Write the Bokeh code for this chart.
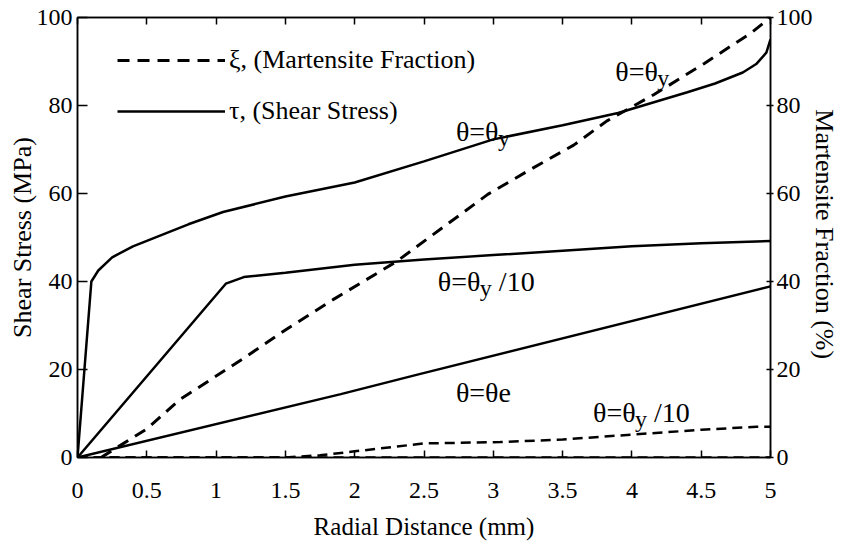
from bokeh.plotting import figure
from bokeh.models import (Range1d, LinearAxis, FixedTicker, NumeralTickFormatter,
                          Label, Legend, LegendItem)
from bokeh.embed import file_html
from bokeh.resources import INLINE

# ---------------- data ----------------
x_ticks = [0, 0.5, 1, 1.5, 2, 2.5, 3, 3.5, 4, 4.5, 5]
y_ticks = [0, 20, 40, 60, 80, 100]

# shear stress (MPa)
tau_y_x = [0, 0.1, 0.15, 0.25, 0.4, 0.6, 0.8, 1.05, 1.5, 2.0, 2.5, 3.0, 3.5, 3.9, 4.4, 4.6, 4.8, 4.9, 4.97, 5.0]
tau_y_v = [0, 40, 42.5, 45.5, 48, 50.5, 53, 55.8, 59.3, 62.5, 67.3, 72.3, 75.5, 78.3, 83.0, 85, 87.5, 89.5, 92, 95]

tau_y10_x = [0, 1.07, 1.2, 1.5, 2.0, 2.5, 3.0, 3.5, 4.0, 4.5, 5.0]
tau_y10_v = [0, 39.5, 41, 42, 43.8, 45, 46, 47, 48, 48.7, 49.2]

tau_e_x = [0, 1.9, 2.46, 5.0]
tau_e_v = [0, 14.4, 18.9, 38.9]

# martensite fraction (%)
xi_y_x = [0.17, 0.5, 0.74, 1.0, 1.22, 1.5, 1.85, 2.3, 2.96, 3.27, 3.58, 3.82, 4.16, 4.52, 4.86, 5.0]
xi_y_v = [0, 6.5, 13.2, 18.5, 23, 29, 36, 44.5, 59.8, 65.5, 71, 76.5, 82.5, 89.5, 96.5, 100]

xi_y10_x = [0, 1.5, 1.75, 2.0, 2.5, 3.05, 3.5, 4.0, 4.5, 4.9, 5.0]
xi_y10_v = [0, 0, 0.5, 1.4, 3.2, 3.5, 4.1, 5.2, 6.3, 7.0, 7.0]

xi_e_x = [0, 5.0]
xi_e_v = [0, 0]

FONT = "Liberation Serif"

p = figure(frame_width=693, frame_height=440,
           x_range=Range1d(0, 5), y_range=Range1d(0, 100),
           output_backend="svg", toolbar_location=None,
           min_border_left=77, min_border_right=70,
           min_border_top=17, min_border_bottom=84)
p.extra_y_ranges = {"frac": Range1d(0, 100)}
p.xgrid.grid_line_color = None
p.ygrid.grid_line_color = None
p.outline_line_color = "black"
p.outline_line_width = 1.5
p.background_fill_color = "white"
p.border_fill_color = "white"

def style_axis(ax, tin, tout):
    ax.axis_line_width = 1.5
    ax.major_tick_line_width = 1.5
    ax.major_tick_in = tin
    ax.major_tick_out = tout
    ax.minor_tick_line_color = None
    ax.major_label_text_font = FONT
    ax.major_label_text_font_size = "24px"
    ax.major_label_text_color = "black"
    ax.axis_label_text_font = FONT
    ax.axis_label_text_font_size = "26px"
    ax.axis_label_text_font_style = "normal"
    ax.axis_label_text_color = "black"

xa = p.xaxis[0]
xa.ticker = FixedTicker(ticks=x_ticks)
xa.formatter = NumeralTickFormatter(format="0.[0]")
xa.axis_label = "Radial Distance (mm)"
style_axis(xa, 7, 0)
xa.axis_label_text_font_size = "25px"
xa.major_label_standoff = 25
xa.axis_label_standoff = 12

ya = p.yaxis[0]
ya.ticker = FixedTicker(ticks=y_ticks)
ya.axis_label = "Shear Stress (MPa)"
style_axis(ya, 10, 0)
ya.major_label_standoff = 5
ya.axis_label_standoff = -3

ra = LinearAxis(y_range_name="frac", ticker=FixedTicker(ticks=y_ticks),
                axis_label="Martensite Fraction  (%)")
style_axis(ra, 4, 3)
ra.major_label_standoff = 3
ra.axis_label_standoff = -6
p.add_layout(ra, "right")

ta = LinearAxis(ticker=FixedTicker(ticks=x_ticks),
                major_label_overrides={t: "" for t in x_ticks})
style_axis(ta, 7, 0)
ta.major_label_text_font_size = "0px"
ta.major_label_standoff = 0
p.add_layout(ta, "above")

# ---------------- curves ----------------
r_tau_y = p.line(tau_y_x, tau_y_v, line_color="black", line_width=2.5)
p.line(tau_y10_x, tau_y10_v, line_color="black", line_width=2.5)
p.line(tau_e_x, tau_e_v, line_color="black", line_width=2.5)

r_xi_y = p.line(xi_y_x, xi_y_v, line_color="black", line_width=3, line_dash="12 8", y_range_name="frac")
p.line(xi_y10_x, xi_y10_v, line_color="black", line_width=2.5, line_dash="10 6", y_range_name="frac")
p.line(xi_e_x, xi_e_v, line_color="black", line_width=2.5, line_dash="10 6", y_range_name="frac")

legend = Legend(items=[LegendItem(label="\u03be, (Martensite Fraction)", renderers=[r_xi_y]),
                       LegendItem(label="\u03c4, (Shear Stress)", renderers=[r_tau_y])],
                location=(40, 331), glyph_width=108, glyph_height=28, label_height=28,
                spacing=21, padding=0, margin=0, label_standoff=4,
                label_text_font=FONT, label_text_font_size="26px", label_text_color="black",
                border_line_color=None, background_fill_alpha=0)
p.add_layout(legend, "center")

# ---------------- annotations ----------------
def theta_label(x, y, sub, tail=""):
    p.add_layout(Label(x=x, y=y, text="\u03b8=\u03b8", text_font=FONT, text_font_size="28px",
                       text_color="black", text_baseline="alphabetic"))
    if sub:
        p.add_layout(Label(x=x, y=y, x_offset=42, y_offset=-6, text=sub, text_font=FONT,
                           text_font_size="24px", text_color="black", text_baseline="alphabetic"))
    if tail:
        p.add_layout(Label(x=x, y=y, x_offset=61, text=tail, text_font=FONT,
                           text_font_size="28px", text_color="black", text_baseline="alphabetic"))

theta_label(2.73, 74.0, "y")
theta_label(3.88, 87.7, "y")
theta_label(2.60, 40.0, "y", "/10")
theta_label(3.72, 10.2, "y", "/10")
p.add_layout(Label(x=2.73, y=14.8, text="\u03b8=\u03b8e", text_font=FONT, text_font_size="28px",
                   text_color="black", text_baseline="alphabetic"))

open("out.html", "w").write(file_html(p, INLINE))
